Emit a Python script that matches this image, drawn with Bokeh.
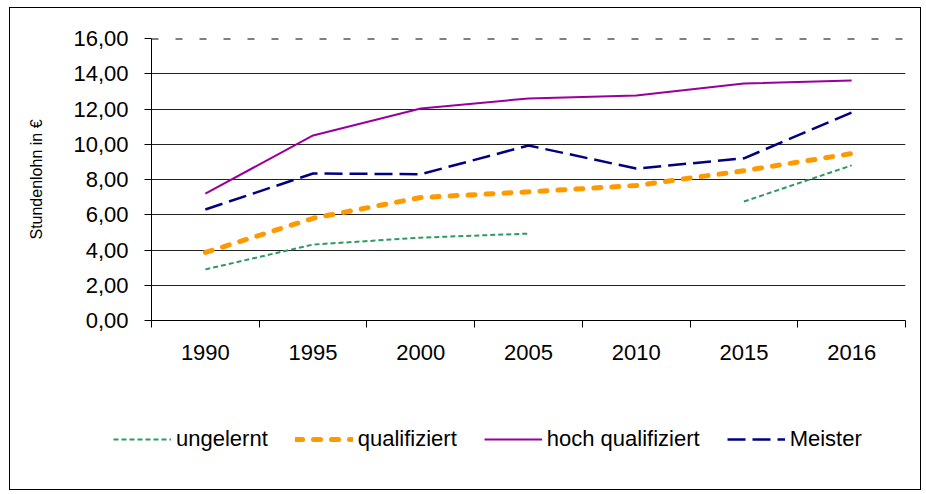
import numpy as np
from bokeh.plotting import figure
from bokeh.layouts import column
from bokeh.models import (FixedTicker, Span, Legend, LegendItem, ColumnDataSource, Range1d)
from bokeh.embed import file_html
from bokeh.resources import INLINE

years = ["1990", "1995", "2000", "2005", "2010", "2015", "2016"]
ungelernt = [2.90, 4.31, 4.70, 4.93, np.nan, 6.75, 8.80]
qualifiziert = [3.86, 5.80, 6.98, 7.30, 7.66, 8.50, 9.47]
hoch_qualifiziert = [7.20, 10.50, 12.03, 12.60, 12.77, 13.45, 13.62]
meister = [6.30, 8.34, 8.30, 9.93, 8.62, 9.20, 11.80]
series_names = ["ungelernt", "qualifiziert", "hoch qualifiziert", "Meister"]
y_ticks = [0, 2, 4, 6, 8, 10, 12, 14, 16]

FONT = "Liberation Sans"
styles = [dict(line_color="#2E9960", line_width=2, line_dash="5 3"),
          dict(line_color="#FF9900", line_width=5, line_dash="7 11", line_cap="round"),
          dict(line_color="#990099", line_width=2),
          dict(line_color="#000080", line_width=2.5, line_dash="18 7")]

xpos = [i + 0.5 for i in range(len(years))]

p = figure(width=910, height=362, output_backend="svg", toolbar_location=None,
           x_range=(0, len(years)), y_range=(0, 16),
           min_border_left=141, min_border_right=15, min_border_top=30, min_border_bottom=50)
p.outline_line_color = None
p.background_fill_color = "white"
p.border_fill_color = "white"

# x axis: labels at category centres, ticks between categories
p.xaxis.ticker = FixedTicker(ticks=xpos, minor_ticks=list(range(len(years) + 1)))
p.xaxis.major_label_overrides = {x: y for x, y in zip(xpos, years)}
p.xaxis.major_tick_out = 0
p.xaxis.major_tick_in = 0
p.xaxis.minor_tick_out = 7
p.xaxis.minor_tick_in = 0
p.xaxis.minor_tick_line_color = "black"
p.xaxis.axis_line_color = "black"
p.xaxis.major_label_standoff = 17
p.xaxis.major_label_text_font = FONT
p.xaxis.major_label_text_font_size = "22px"
p.xaxis.major_label_text_color = "black"

# y axis
p.yaxis.ticker = FixedTicker(ticks=y_ticks, minor_ticks=[])
p.yaxis.major_label_overrides = {t: f"{t:.2f}".replace(".", ",") for t in y_ticks}
p.yaxis.major_tick_out = 7
p.yaxis.major_tick_in = 0
p.yaxis.major_tick_line_color = "black"
p.yaxis.axis_line_color = "black"
p.yaxis.major_label_standoff = 16
p.yaxis.major_label_text_font = FONT
p.yaxis.major_label_text_font_size = "22px"
p.yaxis.major_label_text_color = "black"
p.yaxis.axis_label = "Stundenlohn in €"
p.yaxis.axis_label_text_font = FONT
p.yaxis.axis_label_text_font_size = "16px"
p.yaxis.axis_label_text_font_style = "normal"
p.yaxis.axis_label_text_color = "black"
p.yaxis.axis_label_standoff = 25

p.xgrid.grid_line_color = None
p.ygrid.ticker = FixedTicker(ticks=y_ticks[1:-1])
p.ygrid.grid_line_color = "#222222"
p.ygrid.grid_line_width = 1

top = Span(location=16, dimension="width", line_color="black", line_width=2, line_dash="7 17")
p.add_layout(top)

src = ColumnDataSource(dict(x=xpos, u=ungelernt, q=qualifiziert, h=hoch_qualifiziert, m=meister))
for col, st in zip(["u", "q", "h", "m"], styles):
    p.line("x", col, source=src, **st)

# legend in a separate strip below the chart (its data lies outside the strip's range)
pl = figure(width=910, height=119, output_backend="svg", toolbar_location=None,
            x_axis_type=None, y_axis_type=None,
            x_range=Range1d(0, 1), y_range=Range1d(-1, 0),
            min_border=0, min_border_left=0, min_border_right=0, min_border_top=0, min_border_bottom=0)
pl.outline_line_color = None
pl.grid.grid_line_color = None
pl.background_fill_alpha = 0
pl.border_fill_alpha = 0
pl.styles = {"margin-left": "-38px"}
items = []
for name, col, st in zip(series_names, ["u", "q", "h", "m"], styles):
    r = pl.line("x", col, source=src, **st)
    items.append(LegendItem(label=name, renderers=[r]))
legend = Legend(items=items, orientation="horizontal", location=(0, 37),
                glyph_width=58, glyph_height=20, label_standoff=5, spacing=27,
                padding=0, margin=0, border_line_color=None, background_fill_alpha=0,
                label_text_font=FONT, label_text_font_size="22px", label_text_color="black")
pl.add_layout(legend, "center")

layout = column(p, pl, spacing=0)
layout.styles = {"border": "1px solid black", "margin": "7px 0 0 9px", "background-color": "white"}

open("out.html", "w").write(file_html(layout, INLINE))
